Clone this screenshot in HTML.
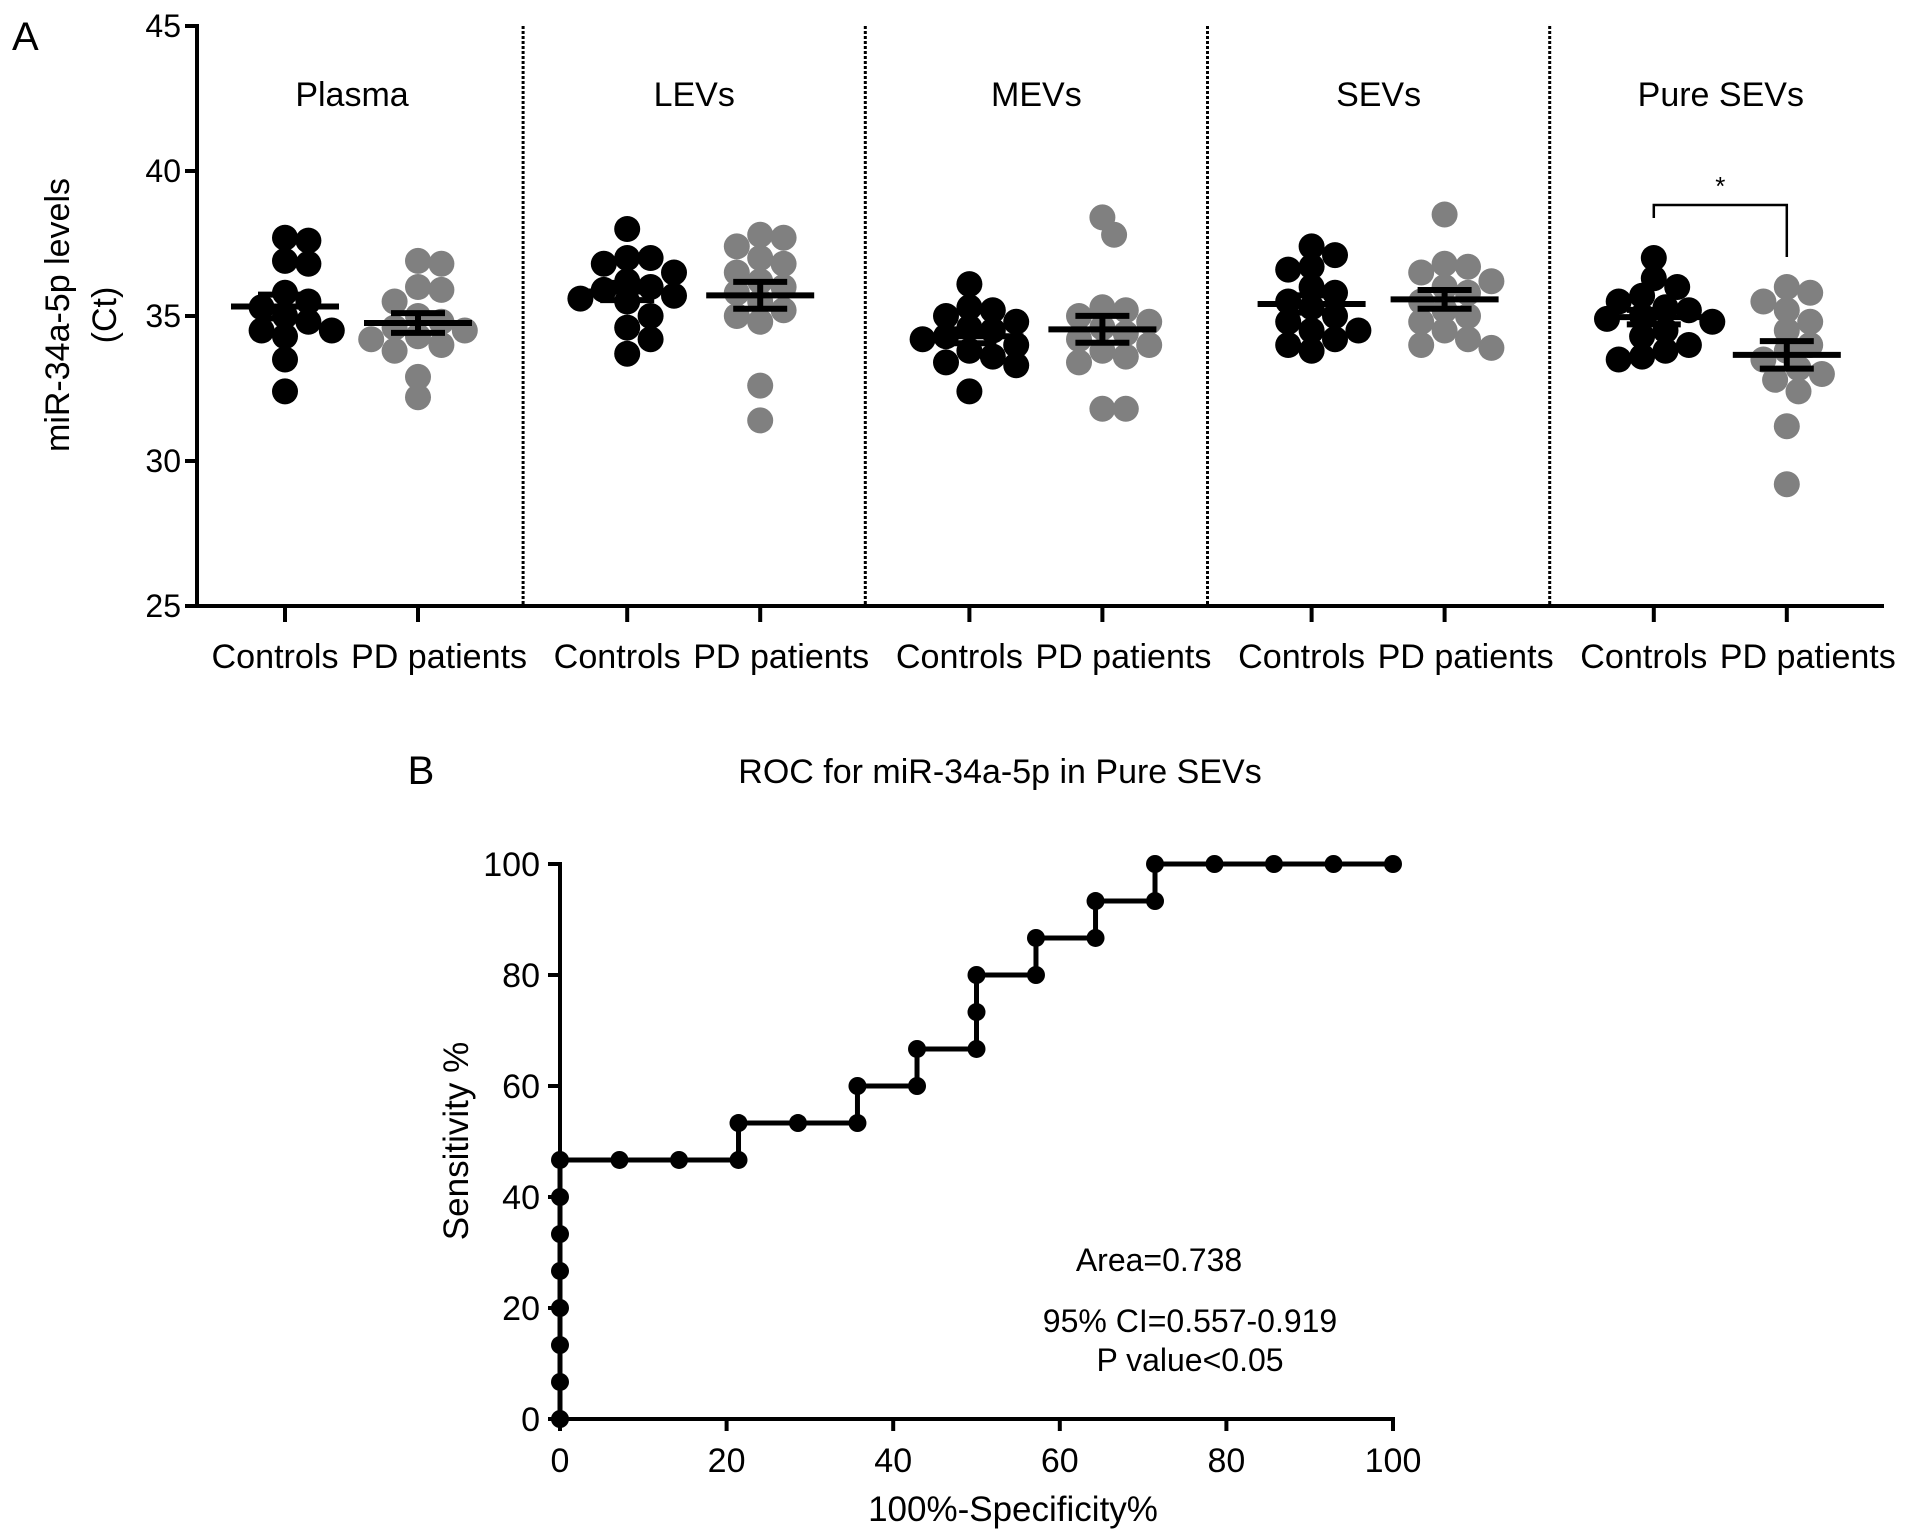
<!DOCTYPE html>
<html><head><meta charset="utf-8"><style>
html,body{margin:0;padding:0;background:#fff;}
svg{display:block;font-family:"Liberation Sans",Arial,sans-serif;}
</style></head><body>
<svg id="fig" width="1913" height="1540" viewBox="0 0 1913 1540">
<text x="12" y="50" font-size="40">A</text>
<text x="421" y="784" font-size="40" text-anchor="middle">B</text>
<g id="pa"></g>
<g id="pb"></g>
</svg>
<script>
// ---------- Panel A data ----------
const groupNames = ["Plasma","LEVs","MEVs","SEVs","Pure SEVs"];
const tickLabelsA = [25,30,35,40,45];
const plasmaControls = [37.7,37.6,36.9,36.8,35.8,35.5,35.3,35.0,34.8,34.5,34.5,34.3,33.5,32.4];
const plasmaPD = [36.9,36.8,36.0,35.9,35.5,35.0,34.8,34.6,34.5,34.3,34.2,34.0,33.8,32.9,32.2];
const levsControls = [38.0,37.0,37.0,36.8,36.5,36.2,36.0,35.9,35.7,35.6,35.5,35.0,34.6,34.2,33.7];
const levsPD = [37.8,37.7,37.4,37.0,36.8,36.5,36.2,36.0,35.8,35.5,35.2,35.0,34.8,32.6,31.4];
const mevsControls = [36.1,35.3,35.2,35.0,34.8,34.6,34.5,34.3,34.2,34.0,33.8,33.6,33.4,33.3,32.4];
const mevsPD = [38.4,37.8,35.3,35.2,35.0,34.8,34.6,34.4,34.2,34.0,33.8,33.6,33.4,31.8,31.8];
const sevsControls = [37.4,37.1,36.7,36.6,36.0,35.8,35.5,35.3,35.0,34.8,34.5,34.5,34.2,34.0,33.8];
const sevsPD = [38.5,36.8,36.7,36.5,36.2,36.0,35.8,35.5,35.2,35.0,34.8,34.5,34.2,34.0,33.9];
const pureControls = [37.0,36.3,36.0,35.7,35.5,35.3,35.2,35.0,34.9,34.8,34.5,34.3,34.0,33.8,33.6,33.5];
const purePD = [36.0,35.8,35.5,35.2,34.8,34.5,34.0,33.8,33.5,33.2,33.0,32.8,32.4,31.2,29.2];
// ---------- Panel B data ----------
const rocFPR = [0,0,0,0,0,0,0,0,7.14,14.29,21.43,21.43,28.57,35.71,35.71,42.86,42.86,50,50,50,57.14,57.14,64.29,64.29,71.43,71.43,78.57,85.71,92.86,100];
const rocTPR = [0,6.67,13.33,20,26.67,33.33,40,46.67,46.67,46.67,46.67,53.33,53.33,53.33,60,60,66.67,66.67,73.33,80,80,86.67,86.67,93.33,93.33,100,100,100,100,100];
const rocTicks = [0,20,40,60,80,100];

const NS="http://www.w3.org/2000/svg";
function mk(tag,attrs,parent,txt){const e=document.createElementNS(NS,tag);for(const k in attrs)e.setAttribute(k,attrs[k]);if(txt!==undefined)e.textContent=txt;parent.appendChild(e);return e;}

// ---- Panel A ----
const pa=document.getElementById('pa');
const yA=v=>26+(45-v)*29;
const groupX=i=>285+i*342.2;
const axL=197, axR=1884, axB=606;
const series=[[plasmaControls,plasmaPD],[levsControls,levsPD],[mevsControls,mevsPD],[sevsControls,sevsPD],[pureControls,purePD]];
let e;
e=mk('line',{x1:axL,y1:24,x2:axL,y2:axB+2,stroke:'#000','stroke-width':4},pa);


e=mk('line',{x1:axL-2,y1:axB,x2:axR,y2:axB,stroke:'#000','stroke-width':4},pa);


tickLabelsA.forEach(v=>{
  e=mk('line',{x1:axL-12,y1:yA(v),x2:axL,y2:yA(v),stroke:'#000','stroke-width':4},pa);
  
  
  e=mk('text',{x:axL-16,y:yA(v)+11,'font-size':32,'text-anchor':'end'},pa,String(v));
  
  
});
e=mk('text',{transform:'translate(69,315) rotate(-90)','font-size':34,'text-anchor':'middle'},pa,'miR-34a-5p levels');


e=mk('text',{transform:'translate(116,315) rotate(-90)','font-size':34,'text-anchor':'middle'},pa,'(Ct)');


for(let i=1;i<5;i++){
  const dx=(groupX(i-1)+groupX(i))/2+67;
  e=mk('line',{x1:dx,y1:26,x2:dx,y2:axB,stroke:'#000','stroke-width':3,'stroke-dasharray':'3 2'},pa);
  
  
}
function swarm(vals,cx,r){
  const placed=[];const out=[];
  vals.forEach(v=>{
    const y=yA(v);
    for(let k=0;k<40;k++){
      const off=(k%2?1:-1)*Math.ceil(k/2)*r*0.9;
      const x=cx+off;
      if(placed.every(p=>Math.hypot(p[0]-x,p[1]-y)>=r*1.5)){placed.push([x,y]);out.push([x,y]);break;}
    }
  });
  return out;
}
series.forEach((pair,gi)=>{
  const cx0=groupX(gi);
  e=mk('text',{x:cx0+67,y:106,'font-size':34,'text-anchor':'middle'},pa,groupNames[gi]);
  
  
  pair.forEach((vals,si)=>{
    const cx=cx0+si*133;
    const col=si?'#808080':'#000';
    e=mk('line',{x1:cx,y1:axB,x2:cx,y2:axB+16,stroke:'#000','stroke-width':4},pa);
    
    
    e=mk('text',{x:cx+(si?21:-10),y:668,'font-size':34,'text-anchor':'middle',textLength:si?176:127,lengthAdjust:'spacingAndGlyphs'},pa,si?'PD patients':'Controls');
    
    
    swarm(vals,cx,13).forEach(p=>{
      e=mk('circle',{cx:p[0],cy:p[1],r:13,fill:col},pa);
      
      
    });
    const n=vals.length,m=vals.reduce((a,b)=>a+b,0)/n;
    const sd=Math.sqrt(vals.reduce((a,b)=>a+(b-m)*(b-m),0)/(n-1)),sem=sd/Math.sqrt(n);
    e=mk('line',{x1:cx-54,y1:yA(m),x2:cx+54,y2:yA(m),stroke:'#000','stroke-width':6},pa);
    
    
    e=mk('path',{d:`M${cx},${yA(m+sem)}V${yA(m-sem)}M${cx-27},${yA(m+sem)}H${cx+27}M${cx-27},${yA(m-sem)}H${cx+27}`,stroke:'#000','stroke-width':6,fill:'none'},pa);
    
    
  });
});
const bx1=groupX(4),bx2=groupX(4)+133;
e=mk('path',{d:`M${bx1},218V205H${bx2}V257`,stroke:'#000','stroke-width':2.5,fill:'none'},pa);


e=mk('text',{x:(bx1+bx2)/2,y:195,'font-size':26,'text-anchor':'middle'},pa,'*');



// ---- Panel B ----
const pb=document.getElementById('pb');
const xB=v=>560+v*8.33, yB=v=>1419-v*5.55;
e=mk('text',{x:1000,y:783,'font-size':34,'text-anchor':'middle'},pb,'ROC for miR-34a-5p in Pure SEVs');


e=mk('line',{x1:xB(0),y1:yB(100)-2,x2:xB(0),y2:yB(0)+2,stroke:'#000','stroke-width':4},pb);


e=mk('line',{x1:xB(0)-2,y1:yB(0),x2:xB(100)+2,y2:yB(0),stroke:'#000','stroke-width':4},pb);


rocTicks.forEach(v=>{
  e=mk('line',{x1:xB(0)-12,y1:yB(v),x2:xB(0),y2:yB(v),stroke:'#000','stroke-width':4},pb);
  
  
  e=mk('text',{x:xB(0)-20,y:yB(v)+12,'font-size':34,'text-anchor':'end'},pb,String(v));
  
  
  e=mk('line',{x1:xB(v),y1:yB(0),x2:xB(v),y2:yB(0)+12,stroke:'#000','stroke-width':4},pb);
  
  
  e=mk('text',{x:xB(v),y:1472,'font-size':34,'text-anchor':'middle'},pb,String(v));
  
  
});
e=mk('text',{transform:'translate(468,1141) rotate(-90)','font-size':35,'text-anchor':'middle'},pb,'Sensitivity %');


e=mk('text',{x:1013,y:1521,'font-size':35,'text-anchor':'middle'},pb,'100%-Specificity%');


e=mk('path',{d:rocFPR.map((x,i)=>(i?'L':'M')+xB(x)+','+yB(rocTPR[i])).join(''),stroke:'#000','stroke-width':5,fill:'none'},pb);


rocFPR.forEach((x,i)=>{
  e=mk('circle',{cx:xB(x),cy:yB(rocTPR[i]),r:9,fill:'#000'},pb);
  
  
});
e=mk('text',{x:1159,y:1271,'font-size':32,'text-anchor':'middle'},pb,'Area=0.738');


e=mk('text',{x:1190,y:1332,'font-size':32,'text-anchor':'middle'},pb,'95% CI=0.557-0.919');


e=mk('text',{x:1190,y:1371,'font-size':32,'text-anchor':'middle'},pb,'P value<0.05');


</script>
</body></html>
